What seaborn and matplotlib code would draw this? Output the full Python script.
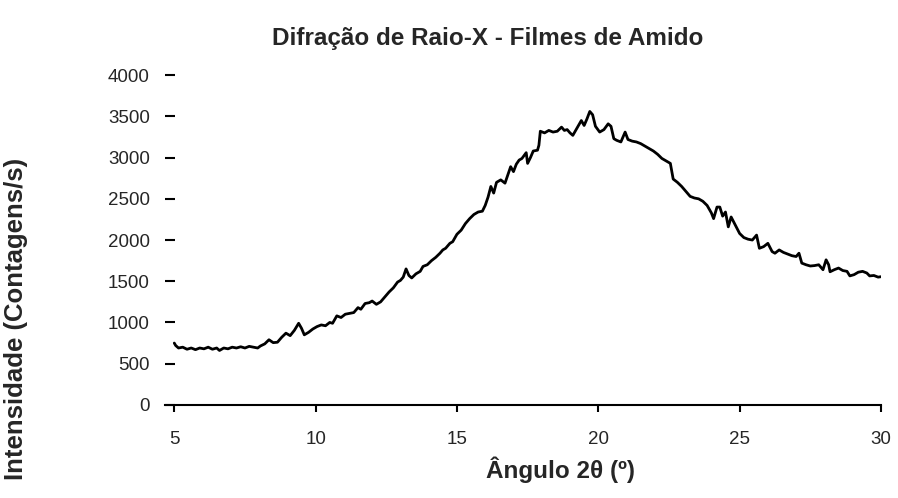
import numpy as np
import pandas as pd
import matplotlib
matplotlib.use("Agg")
import matplotlib.pyplot as plt
import seaborn as sns

# Ângulo 2theta (graus) e intensidade (contagens/s)
angulo = [5.0, 5.05, 5.15, 5.3, 5.45, 5.6, 5.75, 5.9, 6.05, 6.2, 6.35, 6.5, 6.6, 6.75, 6.9,
          7.05, 7.2, 7.35, 7.5, 7.65, 7.8, 7.95, 8.05, 8.2, 8.35, 8.5, 8.65, 8.8, 8.95, 9.1,
          9.25, 9.4, 9.5, 9.6, 9.75, 9.9, 10.05, 10.2, 10.35, 10.5, 10.6, 10.75, 10.9, 11.05,
          11.2, 11.35, 11.5, 11.6, 11.75, 11.9, 12.0, 12.15, 12.3, 12.45, 12.6, 12.75, 12.9,
          13.0, 13.1, 13.2, 13.3, 13.4, 13.55, 13.7, 13.8, 13.95, 14.1, 14.25, 14.4, 14.5,
          14.6, 14.75, 14.85, 15.0, 15.15, 15.3, 15.45, 15.6, 15.75, 15.9, 16.0, 16.1, 16.2,
          16.3, 16.4, 16.55, 16.7, 16.8, 16.9, 17.0, 17.1, 17.2, 17.3, 17.45, 17.5, 17.6,
          17.7, 17.85, 17.9, 17.95, 18.1, 18.25, 18.4, 18.55, 18.7, 18.8, 18.9, 19.0, 19.1,
          19.25, 19.4, 19.5, 19.6, 19.7, 19.8, 19.9, 20.05, 20.2, 20.35, 20.45, 20.55, 20.65,
          20.8, 20.95, 21.05, 21.2, 21.35, 21.5, 21.65, 21.8, 21.95, 22.1, 22.25, 22.4, 22.55,
          22.65, 22.8, 22.95, 23.1, 23.25, 23.4, 23.55, 23.7, 23.85, 24.0, 24.08, 24.2, 24.3,
          24.4, 24.5, 24.6, 24.7, 24.85, 25.0, 25.15, 25.3, 25.45, 25.6, 25.7, 25.85, 26.0,
          26.15, 26.25, 26.4, 26.55, 26.7, 26.85, 27.0, 27.1, 27.2, 27.35, 27.5, 27.65, 27.8,
          27.95, 28.06, 28.15, 28.2, 28.35, 28.5, 28.65, 28.8, 28.9, 29.05, 29.2, 29.35, 29.5,
          29.6, 29.75, 29.9, 30.0]
intensidade = [750, 720, 690, 700, 675, 690, 670, 690, 680, 700, 675, 690, 660, 690, 680,
               700, 690, 705, 690, 710, 700, 690, 715, 740, 790, 755, 760, 820, 870, 840,
               905, 990, 930, 850, 880, 920, 950, 970, 960, 1000, 990, 1080, 1060, 1100,
               1110, 1120, 1180, 1160, 1230, 1240, 1260, 1220, 1250, 1310, 1370, 1420, 1490,
               1510, 1550, 1650, 1570, 1540, 1590, 1620, 1680, 1700, 1750, 1790, 1840, 1880,
               1900, 1960, 1980, 2070, 2120, 2200, 2260, 2310, 2340, 2350, 2420, 2520, 2650,
               2570, 2700, 2730, 2690, 2790, 2890, 2830, 2920, 2970, 2990, 3060, 2930, 3000,
               3080, 3090, 3150, 3320, 3300, 3330, 3310, 3320, 3370, 3330, 3340, 3300, 3270,
               3360, 3450, 3390, 3470, 3560, 3520, 3380, 3310, 3340, 3410, 3380, 3230, 3210,
               3190, 3310, 3220, 3200, 3190, 3170, 3140, 3110, 3080, 3040, 2990, 2960, 2930,
               2740, 2700, 2650, 2590, 2530, 2510, 2500, 2470, 2420, 2330, 2260, 2400, 2400,
               2290, 2340, 2160, 2280, 2180, 2080, 2030, 2010, 2000, 2060, 1900, 1920, 1960,
               1860, 1840, 1880, 1850, 1830, 1810, 1800, 1840, 1720, 1700, 1685, 1690, 1700,
               1640, 1760, 1700, 1615, 1640, 1660, 1630, 1620, 1565, 1580, 1610, 1620, 1600,
               1565, 1570, 1550, 1555]

x_ticks = [5, 10, 15, 20, 25, 30]
y_ticks = [0, 500, 1000, 1500, 2000, 2500, 3000, 3500, 4000]

df = pd.DataFrame({"angulo": angulo, "intensidade": intensidade})

sns.set_style("white")
plt.rcParams["font.family"] = ["Liberation Sans", "DejaVu Sans"]

fig = plt.figure(figsize=(8.98, 4.98), dpi=100)
ax = fig.add_axes([0.184, 0.187, 0.797, 0.662])

sns.lineplot(data=df, x="angulo", y="intensidade", ax=ax, color="black", linewidth=2)

ax.set_xlim(4.68, 30)
ax.set_ylim(0, 4000)
ax.set_xticks(x_ticks)
ax.set_yticks(y_ticks)
ax.set_xlabel("")
ax.set_ylabel("")

for s in ["top", "right", "left"]:
    ax.spines[s].set_visible(False)
ax.spines["bottom"].set_color("black")
ax.spines["bottom"].set_linewidth(1.5)

ax.tick_params(axis="x", direction="out", length=5, width=1.5, color="black",
               labelsize=13.5, pad=14, bottom=True)
ax.tick_params(axis="y", direction="in", length=7, width=1.5, color="black",
               labelsize=13.5, pad=11, left=True)

fig.text(0.543, 0.923, "Difração de Raio-X - Filmes de Amido", ha="center", va="center",
         fontsize=17.5, fontweight="bold")
fig.text(0.624, 0.056, "Ângulo 2θ (º)", ha="center", va="center",
         fontsize=17.5, fontweight="bold")
fig.text(0.018, 0.36, "Intensidade (Contagens/s)", ha="center", va="center",
         rotation=90, fontsize=18.5, fontweight="bold")

fig.savefig("out.png", dpi=100)
